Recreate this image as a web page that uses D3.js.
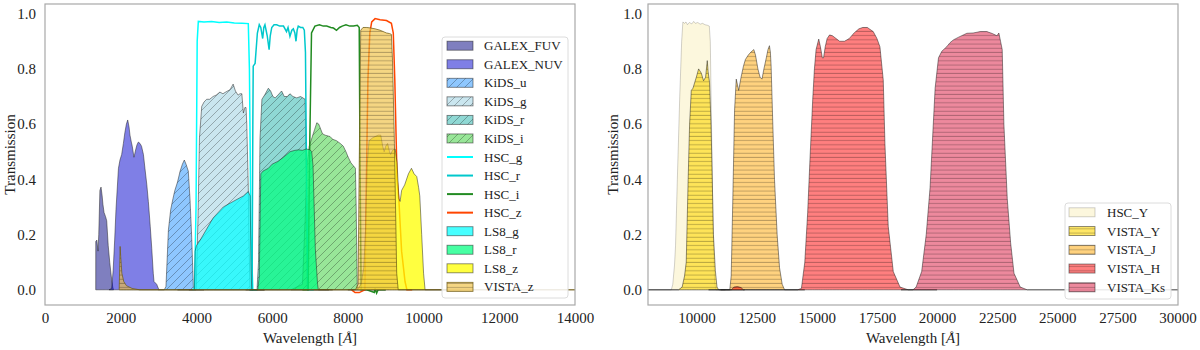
<!DOCTYPE html>
<html>
<head>
<meta charset="utf-8">
<script src="https://cdn.jsdelivr.net/npm/d3@7"></script>
<style>
  body { margin: 0; background: #fff; }
  svg text { font-family: "Liberation Serif", "DejaVu Serif", serif; fill: #222; }
</style>
</head>
<body>
<div id="chart"></div>
<script>
// filter curves, [wavelength in Angstrom, transmission]
const galexFUV = [[1340,0],[1341,0.175],[1370,0.18],[1400,0.14],[1420,0.2],[1450,0.36],[1480,0.372],[1510,0.34],[1530,0.31],[1560,0.28],[1600,0.265],[1630,0.25],[1670,0.16],[1710,0.1],[1750,0.05],[1790,0.01],[1810,0]]
const galexNUV = [[1690,0],[1760,0.005],[1800,0.07],[1840,0.18],[1875,0.29],[1940,0.44],[1980,0.47],[2025,0.49],[2070,0.53],[2110,0.57],[2150,0.6],[2185,0.615],[2220,0.59],[2245,0.56],[2280,0.535],[2305,0.52],[2350,0.48],[2400,0.51],[2430,0.525],[2465,0.535],[2510,0.53],[2550,0.52],[2600,0.49],[2640,0.44],[2690,0.38],[2730,0.32],[2780,0.23],[2820,0.15],[2860,0.06],[2880,0.03],[2950,0.02],[3010,0]]
const kidsU = [[3000,0],[3150,0],[3195,0.012],[3230,0.12],[3260,0.217],[3320,0.29],[3380,0.33],[3430,0.36],[3500,0.39],[3570,0.43],[3630,0.455],[3680,0.47],[3725,0.455],[3785,0.43],[3830,0.33],[3875,0.19],[3920,0.01],[3950,0],[4200,0]]
const kidsG = [[3800,0],[3990,0],[4040,0.25],[4080,0.55],[4140,0.664],[4200,0.68],[4270,0.69],[4350,0.69],[4440,0.7],[4520,0.705],[4620,0.716],[4700,0.71],[4760,0.715],[4890,0.725],[4970,0.745],[5030,0.72],[5100,0.705],[5150,0.71],[5200,0.71],[5240,0.64],[5280,0.66],[5310,0.66],[5330,0.6],[5370,0.37],[5400,0.1],[5420,0],[5800,0]]
const kidsR = [[5300,0],[5600,0],[5640,0.1],[5680,0.55],[5730,0.69],[5800,0.705],[5900,0.73],[5960,0.72],[6020,0.7],[6080,0.695],[6150,0.705],[6250,0.72],[6320,0.7],[6400,0.7],[6470,0.71],[6550,0.7],[6650,0.695],[6750,0.7],[6870,0.69],[6895,0.54],[6930,0],[7500,0]]
const kidsI = [[6500,0],[6800,0.02],[6870,0.25],[6920,0.45],[6980,0.52],[7050,0.55],[7120,0.58],[7180,0.605],[7230,0.6],[7260,0.59],[7330,0.565],[7400,0.56],[7530,0.555],[7600,0.545],[7700,0.54],[7800,0.53],[7880,0.52],[7950,0.5],[8010,0.48],[8080,0.46],[8140,0.45],[8200,0.44],[8220,0.3],[8250,0],[9000,0]]
const hscG = [[3900,0],[3950,0.005],[3990,0.3],[4020,0.9],[4050,0.972],[4200,0.97],[4400,0.972],[4600,0.968],[4800,0.97],[5000,0.966],[5200,0.965],[5370,0.964],[5400,0.8],[5440,0.2],[5490,0],[5600,0]]
const hscR = [[5400,0],[5470,0],[5490,0.6],[5500,0.81],[5550,0.82],[5610,0.93],[5660,0.96],[5700,0.95],[5750,0.91],[5780,0.95],[5810,0.96],[5840,0.94],[5870,0.92],[5920,0.87],[5950,0.92],[5990,0.95],[6050,0.96],[6120,0.96],[6200,0.955],[6300,0.955],[6380,0.935],[6420,0.95],[6470,0.918],[6520,0.94],[6560,0.945],[6600,0.93],[6630,0.9],[6660,0.94],[6690,0.955],[6750,0.95],[6810,0.95],[6850,0.94],[6880,0.86],[6910,0.4],[6940,0],[7100,0]]
const hscI = [[6800,0],[6950,0],[6990,0.5],[7040,0.93],[7130,0.955],[7250,0.96],[7350,0.955],[7440,0.955],[7550,0.95],[7620,0.948],[7700,0.94],[7780,0.95],[7850,0.955],[7950,0.96],[8050,0.955],[8150,0.955],[8250,0.958],[8300,0.95],[8320,0.5],[8350,0],[8500,0],[8700,-0.01],[8720,0.005],[8760,-0.012],[8800,0],[9000,0]]
const hscZ = [[8100,0],[8190,-0.01],[8300,-0.01],[8450,0],[8490,0.4],[8530,0.76],[8580,0.93],[8630,0.97],[8720,0.982],[8850,0.978],[9020,0.975],[9150,0.965],[9200,0.93],[9240,0.76],[9300,0.4],[9350,0.32],[9420,0.14],[9510,0.03],[9560,0],[9700,0]]
const ls8G = [[3500,0],[3950,0],[3965,0.14],[4000,0.16],[4100,0.18],[4270,0.22],[4440,0.26],[4710,0.3],[4970,0.32],[5240,0.34],[5370,0.356],[5420,0.34],[5440,0.1],[5460,0],[5800,0]]
const ls8R = [[5400,0],[5620,0],[5660,0.05],[5700,0.42],[5760,0.43],[5900,0.44],[6000,0.455],[6150,0.465],[6300,0.48],[6470,0.5],[6600,0.505],[6700,0.507],[6800,0.505],[6900,0.51],[7000,0.507],[7045,0.5],[7080,0.45],[7140,0.15],[7200,0.02],[7220,0],[7600,0]]
const ls8Z = [[8000,0],[8250,0],[8350,0.02],[8420,0.08],[8470,0.22],[8510,0.45],[8560,0.54],[8650,0.55],[8720,0.555],[8800,0.56],[8870,0.56],[8920,0.52],[8960,0.5],[9000,0.52],[9050,0.53],[9100,0.5],[9130,0.49],[9180,0.505],[9250,0.51],[9300,0.46],[9350,0.33],[9380,0.32],[9420,0.36],[9500,0.38],[9600,0.42],[9680,0.44],[9750,0.42],[9820,0.41],[9870,0.37],[9900,0.34],[9950,0.2],[10000,0.06],[10040,0],[11000,0]]
const vistaZ = [[1960,0],[1975,0.1],[1985,0.157],[2000,0.12],[2030,0.06],[2080,0.03],[2150,0.015],[2300,0.005],[2500,0],[8200,0],[8270,0.02],[8300,0.45],[8340,0.94],[8400,0.95],[8500,0.95],[8600,0.948],[8720,0.945],[8850,0.94],[9020,0.93],[9100,0.928],[9150,0.925],[9180,0.83],[9230,0.53],[9290,0.06],[9330,0],[14500,0]]

const hscY = [[7900,0],[8950,0],[9010,0.02],[9083,0.09],[9125,0.16],[9200,0.4],[9300,0.7],[9380,0.9],[9430,0.97],[9500,0.965],[9560,0.97],[9620,0.96],[9700,0.968],[9800,0.963],[9880,0.972],[9950,0.965],[10050,0.968],[10150,0.962],[10250,0.965],[10350,0.96],[10450,0.958],[10530,0.955],[10570,0.9],[10620,0.6],[10680,0.25],[10750,0.03],[10800,0],[11200,0]]
const vistaY = [[7900,0],[9250,0],[9400,0.01],[9500,0.05],[9570,0.1],[9650,0.4],[9710,0.6],[9780,0.722],[9850,0.73],[9990,0.77],[10085,0.8],[10195,0.785],[10290,0.757],[10375,0.77],[10445,0.83],[10480,0.79],[10540,0.75],[10600,0.6],[10640,0.45],[10700,0.2],[10780,0.07],[10850,0.01],[10920,0],[12000,0]]
const vistaJ = [[10500,0],[11380,0],[11440,0.05],[11510,0.34],[11580,0.65],[11650,0.763],[11750,0.722],[11850,0.77],[11950,0.81],[12030,0.834],[12150,0.85],[12250,0.86],[12380,0.87],[12450,0.85],[12550,0.8],[12640,0.77],[12720,0.763],[12800,0.8],[12900,0.84],[12970,0.87],[13030,0.884],[13070,0.86],[13100,0.81],[13170,0.6],[13240,0.4],[13350,0.2],[13450,0.08],[13560,0.02],[13660,0],[14500,0]]
const vistaH = [[11000,0],[11450,0],[11550,0.01],[11700,0.012],[11850,0.008],[11950,0],[14200,0],[14360,0.005],[14500,0.1],[14620,0.28],[14720,0.48],[14830,0.69],[14900,0.8],[14970,0.87],[15080,0.908],[15150,0.88],[15230,0.84],[15280,0.84],[15350,0.88],[15430,0.91],[15530,0.923],[15650,0.92],[15800,0.91],[15950,0.9],[16150,0.9],[16350,0.91],[16550,0.93],[16750,0.945],[16910,0.95],[17100,0.95],[17346,0.935],[17500,0.91],[17625,0.88],[17763,0.76],[17833,0.53],[17970,0.23],[18180,0.066],[18460,0.01],[18800,0],[20000,0]]
const vistaKs = [[18500,0],[19000,0],[19130,0.01],[19360,0.066],[19550,0.2],[19710,0.37],[19920,0.73],[20060,0.84],[20200,0.864],[20400,0.88],[20540,0.895],[20680,0.905],[20900,0.915],[21240,0.929],[21500,0.93],[21800,0.935],[22070,0.935],[22300,0.928],[22490,0.92],[22570,0.93],[22640,0.9],[22710,0.87],[22780,0.6],[22920,0.33],[23060,0.17],[23200,0.06],[23460,0.01],[23750,0],[30500,0]]

const leftNames = ['GALEX_FUV','GALEX_NUV','KiDS_u','KiDS_g','KiDS_r','KiDS_i','HSC_g','HSC_r','HSC_i','HSC_z','LS8_g','LS8_r','LS8_z','VISTA_z']
const leftCurves = [galexFUV, galexNUV, kidsU, kidsG, kidsR, kidsI, hscG, hscR, hscI, hscZ, ls8G, ls8R, ls8Z, vistaZ]
const rightNames = ['HSC_Y','VISTA_Y','VISTA_J','VISTA_H','VISTA_Ks']
const rightCurves = [hscY, vistaY, vistaJ, vistaH, vistaKs]

const yTicks = [0, 0.2, 0.4, 0.6, 0.8, 1.0]
const leftXTicks = [0, 2000, 4000, 6000, 8000, 10000, 12000, 14000]
const rightXTicks = [10000, 12500, 15000, 17500, 20000, 22500, 25000, 27500, 30000]

// how each filter is drawn
const styles = {
  GALEX_FUV: { kind: 'fill', color: '#000080', op: 0.5 },
  GALEX_NUV: { kind: 'fill', color: '#0000cd', op: 0.5 },
  KiDS_u: { kind: 'fill', color: '#1e90ff', op: 0.5, hatch: 'diag' },
  KiDS_g: { kind: 'fill', color: '#add8e6', op: 0.65, hatch: 'diag' },
  KiDS_r: { kind: 'fill', color: '#20b2aa', op: 0.5, hatch: 'diag' },
  KiDS_i: { kind: 'fill', color: '#32cd32', op: 0.5, hatch: 'diag' },
  HSC_g: { kind: 'line', color: '#00ffff' },
  HSC_r: { kind: 'line', color: '#00c8cc' },
  HSC_i: { kind: 'line', color: '#228b22' },
  HSC_z: { kind: 'line', color: '#ff4500' },
  LS8_g: { kind: 'fill', color: '#00ffff', op: 0.72 },
  LS8_r: { kind: 'fill', color: '#00ff7f', op: 0.72 },
  LS8_z: { kind: 'fill', color: '#ffff00', op: 0.75 },
  VISTA_z: { kind: 'fill', color: '#f0c040', op: 0.65, hatch: 'horiz', edge: 'rgba(110,90,20,0.8)' },
  HSC_Y: { kind: 'fill', color: '#fbf3cf', op: 0.7, edge: 'rgba(0,0,0,0.2)' },
  VISTA_Y: { kind: 'fill', color: '#ffd700', op: 0.6, hatch: 'horiz' },
  VISTA_J: { kind: 'fill', color: '#ffa500', op: 0.5, hatch: 'horiz' },
  VISTA_H: { kind: 'fill', color: '#ff0000', op: 0.5, hatch: 'horiz' },
  VISTA_Ks: { kind: 'fill', color: '#dc143c', op: 0.5, hatch: 'horiz' }
}

;(function () {

  const plotTop = 4
  const plotBottom = 305

  const svg = d3.select('#chart').append('svg')
    .attr('width', 1200)
    .attr('height', 350)

  const defs = svg.append('defs')
  defs.append('pattern')
    .attr('id', 'hatch-diag')
    .attr('patternUnits', 'userSpaceOnUse')
    .attr('width', 8).attr('height', 8)
    .append('path')
    .attr('d', 'M0,8 L8,0 M-2,2 L2,-2 M6,10 L10,6')
    .attr('stroke', 'rgba(0,0,0,0.35)')
    .attr('stroke-width', 0.8)
  defs.append('pattern')
    .attr('id', 'hatch-horiz')
    .attr('patternUnits', 'userSpaceOnUse')
    .attr('width', 8).attr('height', 4.2)
    .append('path')
    .attr('d', 'M0,2 L8,2')
    .attr('stroke', 'rgba(0,0,0,0.28)')
    .attr('stroke-width', 0.9)

  const yScale = d3.scaleLinear()
    .domain([-0.055, 1.035])
    .range([plotBottom, plotTop])

  function drawPanel (cfg) {
    const xScale = d3.scaleLinear()
      .domain(cfg.xDomain)
      .range([cfg.left, cfg.right])

    const g = svg.append('g')

    defs.append('clipPath').attr('id', 'clip-' + cfg.id)
      .append('rect')
      .attr('x', cfg.left).attr('y', plotTop)
      .attr('width', cfg.right - cfg.left).attr('height', plotBottom - plotTop)

    const plot = g.append('g').attr('clip-path', 'url(#clip-' + cfg.id + ')')

    const area = d3.area()
      .x(d => xScale(d[0]))
      .y0(yScale(0))
      .y1(d => yScale(d[1]))
    const line = d3.line()
      .x(d => xScale(d[0]))
      .y(d => yScale(d[1]))

    cfg.names.forEach((name, i) => {
      const s = styles[name]
      const values = cfg.curves[i]
      if (s.kind === 'line') {
        plot.append('path')
          .attr('d', line(values))
          .attr('fill', 'none')
          .attr('stroke', s.color)
          .attr('stroke-width', 1.5)
        return
      }
      plot.append('path')
        .attr('d', area(values))
        .attr('fill', s.color)
        .attr('fill-opacity', s.op)
      if (s.hatch) {
        plot.append('path')
          .attr('d', area(values))
          .attr('fill', 'url(#hatch-' + s.hatch + ')')
      }
      plot.append('path')
        .attr('d', area(values))
        .attr('fill', 'none')
        .attr('stroke', s.edge || 'rgba(30,30,30,0.55)')
        .attr('stroke-width', 0.9)
    })

    // frame
    g.append('rect')
      .attr('x', cfg.left).attr('y', plotTop)
      .attr('width', cfg.right - cfg.left).attr('height', plotBottom - plotTop)
      .attr('fill', 'none')
      .attr('stroke', '#a8a8a8')
      .attr('stroke-width', 1.2)

    const xAxis = d3.axisBottom(xScale)
      .tickValues(cfg.xTicks)
      .tickFormat(d => d)
      .tickSize(0)
      .tickPadding(7)
    g.append('g')
      .attr('transform', 'translate(0,' + plotBottom + ')')
      .call(xAxis)
      .call(a => a.select('.domain').remove())
      .attr('font-family', null)
      .attr('font-size', 15)

    const yAxis = d3.axisLeft(yScale)
      .tickValues(yTicks)
      .tickFormat(d3.format('.1f'))
      .tickSize(0)
      .tickPadding(cfg.yPad)
    g.append('g')
      .attr('transform', 'translate(' + cfg.left + ',0)')
      .call(yAxis)
      .call(a => a.select('.domain').remove())
      .attr('font-family', null)
      .attr('font-size', 15)

    const xl = g.append('text')
      .attr('x', (cfg.left + cfg.right) / 2)
      .attr('y', 343)
      .attr('text-anchor', 'middle')
      .attr('font-size', 15)
    xl.append('tspan').text('Wavelength [')
    xl.append('tspan').attr('font-style', 'italic').text('Å')
    xl.append('tspan').text(']')

    g.append('text')
      .attr('transform', 'translate(' + cfg.ylabelX + ',' + ((plotTop + plotBottom) / 2) + ') rotate(-90)')
      .attr('text-anchor', 'middle')
      .attr('font-size', 15)
      .text('Transmission')

    // legend
    const lg = cfg.legend
    const leg = g.append('g')
    leg.append('rect')
      .attr('x', lg.x).attr('y', lg.y)
      .attr('width', lg.w).attr('height', lg.h)
      .attr('rx', 3)
      .attr('fill', 'rgba(255,255,255,0.85)')
      .attr('stroke', '#dcdcdc')
    cfg.names.forEach((name, i) => {
      const s = styles[name]
      const cy = lg.row0 + i * lg.step
      if (s.kind === 'line') {
        leg.append('line')
          .attr('x1', lg.px).attr('x2', lg.px + 26)
          .attr('y1', cy).attr('y2', cy)
          .attr('stroke', s.color)
          .attr('stroke-width', 2)
      } else {
        leg.append('rect')
          .attr('x', lg.px).attr('y', cy - 4.5)
          .attr('width', 26).attr('height', 9)
          .attr('fill', s.color)
          .attr('fill-opacity', s.op)
        if (s.hatch) {
          leg.append('rect')
            .attr('x', lg.px).attr('y', cy - 4.5)
            .attr('width', 26).attr('height', 9)
            .attr('fill', 'url(#hatch-' + s.hatch + ')')
        }
        leg.append('rect')
          .attr('x', lg.px).attr('y', cy - 4.5)
          .attr('width', 26).attr('height', 9)
          .attr('fill', 'none')
          .attr('stroke', s.edge || 'rgba(30,30,30,0.55)')
          .attr('stroke-width', 0.9)
      }
      leg.append('text')
        .attr('x', lg.tx).attr('y', cy)
        .attr('dy', '0.35em')
        .attr('font-size', 13)
        .text(name)
    })
  }

  drawPanel({
    id: 'left',
    left: 45, right: 575,
    xDomain: [0, 14000],
    xTicks: leftXTicks,
    names: leftNames,
    curves: leftCurves,
    yPad: 9,
    ylabelX: 15,
    legend: { x: 442, y: 37, w: 126, h: 261, row0: 45.7, step: 18.55, px: 447, tx: 484 }
  })

  drawPanel({
    id: 'right',
    left: 648, right: 1178,
    xDomain: [7980, 30020],
    xTicks: rightXTicks,
    names: rightNames,
    curves: rightCurves,
    yPad: 6,
    ylabelX: 618,
    legend: { x: 1065, y: 203, w: 106, h: 96, row0: 212.3, step: 18.75, px: 1069, tx: 1107 }
  })

})();
</script>
</body>
</html>
